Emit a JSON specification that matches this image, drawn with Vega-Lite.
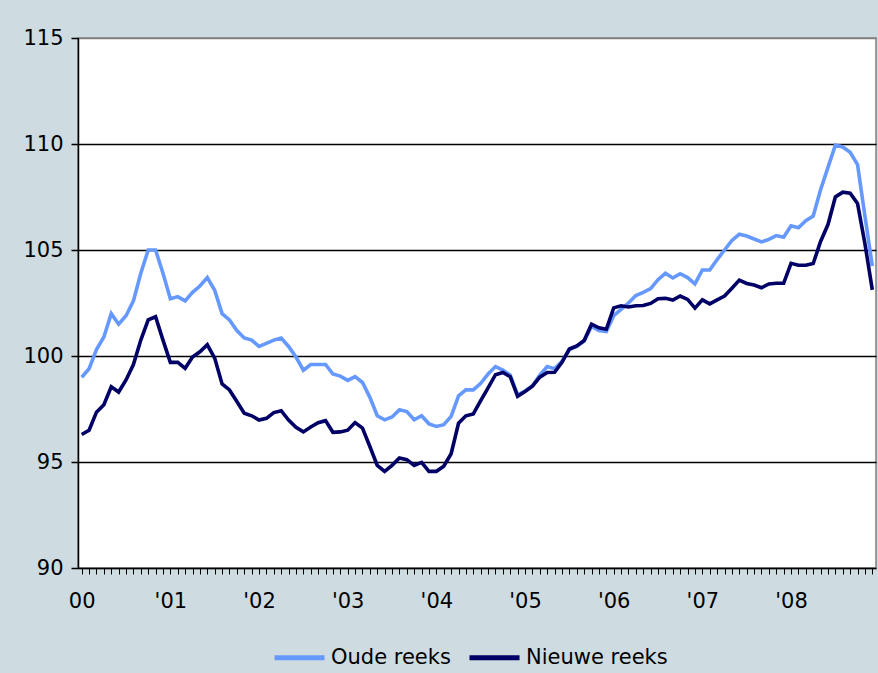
{
  "$schema": "https://vega.github.io/schema/vega-lite/v6.json",
  "width": 798,
  "height": 530,
  "autosize": "none",
  "padding": {"left": 78, "top": 38, "right": 2, "bottom": 105},
  "background": "#cedbe0",
  "config": {
    "view": {"fill": "white", "stroke": "#808080", "strokeWidth": 1.5},
    "font": "DejaVu Sans"
  },
  "data": {
    "values": [
      {"maand": "2000-01", "oude": 99.0, "nieuwe": 96.3},
      {"maand": "2000-02", "oude": 99.4, "nieuwe": 96.5},
      {"maand": "2000-03", "oude": 100.3, "nieuwe": 97.35},
      {"maand": "2000-04", "oude": 100.9, "nieuwe": 97.7},
      {"maand": "2000-05", "oude": 102.0, "nieuwe": 98.55},
      {"maand": "2000-06", "oude": 101.5, "nieuwe": 98.3},
      {"maand": "2000-07", "oude": 101.9, "nieuwe": 98.87},
      {"maand": "2000-08", "oude": 102.6, "nieuwe": 99.6},
      {"maand": "2000-09", "oude": 103.9, "nieuwe": 100.75},
      {"maand": "2000-10", "oude": 105.0, "nieuwe": 101.7},
      {"maand": "2000-11", "oude": 105.0, "nieuwe": 101.85},
      {"maand": "2000-12", "oude": 103.9, "nieuwe": 100.75},
      {"maand": "2001-01", "oude": 102.7, "nieuwe": 99.7},
      {"maand": "2001-02", "oude": 102.8, "nieuwe": 99.7},
      {"maand": "2001-03", "oude": 102.6, "nieuwe": 99.42},
      {"maand": "2001-04", "oude": 103.0, "nieuwe": 99.95},
      {"maand": "2001-05", "oude": 103.3, "nieuwe": 100.2},
      {"maand": "2001-06", "oude": 103.7, "nieuwe": 100.53},
      {"maand": "2001-07", "oude": 103.1, "nieuwe": 99.9},
      {"maand": "2001-08", "oude": 102.0, "nieuwe": 98.68},
      {"maand": "2001-09", "oude": 101.7, "nieuwe": 98.4},
      {"maand": "2001-10", "oude": 101.2, "nieuwe": 97.85},
      {"maand": "2001-11", "oude": 100.85, "nieuwe": 97.3},
      {"maand": "2001-12", "oude": 100.75, "nieuwe": 97.18},
      {"maand": "2002-01", "oude": 100.45, "nieuwe": 96.98},
      {"maand": "2002-02", "oude": 100.6, "nieuwe": 97.06},
      {"maand": "2002-03", "oude": 100.75, "nieuwe": 97.33},
      {"maand": "2002-04", "oude": 100.85, "nieuwe": 97.42},
      {"maand": "2002-05", "oude": 100.45, "nieuwe": 96.98},
      {"maand": "2002-06", "oude": 99.95, "nieuwe": 96.64},
      {"maand": "2002-07", "oude": 99.33, "nieuwe": 96.42},
      {"maand": "2002-08", "oude": 99.6, "nieuwe": 96.65},
      {"maand": "2002-09", "oude": 99.6, "nieuwe": 96.85},
      {"maand": "2002-10", "oude": 99.6, "nieuwe": 96.95},
      {"maand": "2002-11", "oude": 99.15, "nieuwe": 96.4},
      {"maand": "2002-12", "oude": 99.05, "nieuwe": 96.42},
      {"maand": "2003-01", "oude": 98.85, "nieuwe": 96.5},
      {"maand": "2003-02", "oude": 99.03, "nieuwe": 96.86},
      {"maand": "2003-03", "oude": 98.75, "nieuwe": 96.6},
      {"maand": "2003-04", "oude": 98.05, "nieuwe": 95.73},
      {"maand": "2003-05", "oude": 97.18, "nieuwe": 94.84},
      {"maand": "2003-06", "oude": 96.99, "nieuwe": 94.56},
      {"maand": "2003-07", "oude": 97.12, "nieuwe": 94.84},
      {"maand": "2003-08", "oude": 97.46, "nieuwe": 95.19},
      {"maand": "2003-09", "oude": 97.38, "nieuwe": 95.11},
      {"maand": "2003-10", "oude": 96.99, "nieuwe": 94.84},
      {"maand": "2003-11", "oude": 97.18, "nieuwe": 94.98},
      {"maand": "2003-12", "oude": 96.8, "nieuwe": 94.56},
      {"maand": "2004-01", "oude": 96.68, "nieuwe": 94.56},
      {"maand": "2004-02", "oude": 96.76, "nieuwe": 94.8},
      {"maand": "2004-03", "oude": 97.15, "nieuwe": 95.39},
      {"maand": "2004-04", "oude": 98.12, "nieuwe": 96.83},
      {"maand": "2004-05", "oude": 98.4, "nieuwe": 97.18},
      {"maand": "2004-06", "oude": 98.4, "nieuwe": 97.27},
      {"maand": "2004-07", "oude": 98.71, "nieuwe": 97.9},
      {"maand": "2004-08", "oude": 99.15, "nieuwe": 98.5},
      {"maand": "2004-09", "oude": 99.5, "nieuwe": 99.12},
      {"maand": "2004-10", "oude": 99.34, "nieuwe": 99.22},
      {"maand": "2004-11", "oude": 99.1, "nieuwe": 99.02},
      {"maand": "2004-12", "oude": 98.17, "nieuwe": 98.1},
      {"maand": "2005-01", "oude": 98.35, "nieuwe": 98.32},
      {"maand": "2005-02", "oude": 98.6, "nieuwe": 98.58},
      {"maand": "2005-03", "oude": 99.1, "nieuwe": 99.0},
      {"maand": "2005-04", "oude": 99.5, "nieuwe": 99.22},
      {"maand": "2005-05", "oude": 99.4, "nieuwe": 99.23},
      {"maand": "2005-06", "oude": 99.75, "nieuwe": 99.7},
      {"maand": "2005-07", "oude": 100.3, "nieuwe": 100.33},
      {"maand": "2005-08", "oude": 100.45, "nieuwe": 100.47},
      {"maand": "2005-09", "oude": 100.7, "nieuwe": 100.73},
      {"maand": "2005-10", "oude": 101.4, "nieuwe": 101.5},
      {"maand": "2005-11", "oude": 101.2, "nieuwe": 101.33},
      {"maand": "2005-12", "oude": 101.15, "nieuwe": 101.26},
      {"maand": "2006-01", "oude": 101.9, "nieuwe": 102.27},
      {"maand": "2006-02", "oude": 102.2, "nieuwe": 102.37},
      {"maand": "2006-03", "oude": 102.5, "nieuwe": 102.31},
      {"maand": "2006-04", "oude": 102.85, "nieuwe": 102.37},
      {"maand": "2006-05", "oude": 103.0, "nieuwe": 102.38},
      {"maand": "2006-06", "oude": 103.18, "nieuwe": 102.48},
      {"maand": "2006-07", "oude": 103.6, "nieuwe": 102.7},
      {"maand": "2006-08", "oude": 103.9, "nieuwe": 102.72},
      {"maand": "2006-09", "oude": 103.68, "nieuwe": 102.64},
      {"maand": "2006-10", "oude": 103.88, "nieuwe": 102.83},
      {"maand": "2006-11", "oude": 103.7, "nieuwe": 102.67},
      {"maand": "2006-12", "oude": 103.4, "nieuwe": 102.26},
      {"maand": "2007-01", "oude": 104.06, "nieuwe": 102.65},
      {"maand": "2007-02", "oude": 104.06, "nieuwe": 102.46},
      {"maand": "2007-03", "oude": 104.55, "nieuwe": 102.65},
      {"maand": "2007-04", "oude": 105.0, "nieuwe": 102.83},
      {"maand": "2007-05", "oude": 105.45, "nieuwe": 103.2},
      {"maand": "2007-06", "oude": 105.74, "nieuwe": 103.58},
      {"maand": "2007-07", "oude": 105.66, "nieuwe": 103.42},
      {"maand": "2007-08", "oude": 105.52, "nieuwe": 103.35},
      {"maand": "2007-09", "oude": 105.38, "nieuwe": 103.22},
      {"maand": "2007-10", "oude": 105.5, "nieuwe": 103.4},
      {"maand": "2007-11", "oude": 105.68, "nieuwe": 103.43},
      {"maand": "2007-12", "oude": 105.6, "nieuwe": 103.43},
      {"maand": "2008-01", "oude": 106.14, "nieuwe": 104.37},
      {"maand": "2008-02", "oude": 106.05, "nieuwe": 104.28},
      {"maand": "2008-03", "oude": 106.38, "nieuwe": 104.28},
      {"maand": "2008-04", "oude": 106.6, "nieuwe": 104.36},
      {"maand": "2008-05", "oude": 107.84, "nieuwe": 105.4},
      {"maand": "2008-06", "oude": 108.9, "nieuwe": 106.2},
      {"maand": "2008-07", "oude": 109.95, "nieuwe": 107.5},
      {"maand": "2008-08", "oude": 109.86, "nieuwe": 107.73},
      {"maand": "2008-09", "oude": 109.61, "nieuwe": 107.68},
      {"maand": "2008-10", "oude": 109.03, "nieuwe": 107.2},
      {"maand": "2008-11", "oude": 106.6, "nieuwe": 105.3},
      {"maand": "2008-12", "oude": 104.25, "nieuwe": 103.12}
    ]
  },
  "layer": [
    {
      "mark": {"type": "line", "strokeWidth": 3.6},
      "encoding": {
        "x": {
          "field": "maand",
          "type": "ordinal",
          "scale": {"type": "point", "padding": 0.5},
          "axis": {
            "orient": "bottom",
            "title": null,
            "domainColor": "black",
            "domainWidth": 1.5,
            "ticks": true,
            "tickSize": 6,
            "tickColor": "black",
            "tickWidth": 1,
            "grid": false,
            "labelExpr": "slice(datum.value,5,7) == '01' ? (datum.value == '2000-01' ? '00' : \"'\" + slice(datum.value,2,4)) : ''",
            "labelAngle": 0,
            "labelFontSize": 21,
            "labelFont": "DejaVu Sans",
            "labelColor": "black",
            "labelPadding": 16,
            "labelOverlap": false
          }
        },
        "y": {
          "field": "oude",
          "type": "quantitative",
          "scale": {"domain": [90, 115], "nice": false, "zero": false},
          "axis": {
            "title": null,
            "values": [90, 95, 100, 105, 110, 115],
            "domainColor": "black",
            "domainWidth": 1.5,
            "tickSize": 7,
            "tickColor": "black",
            "tickWidth": 1.5,
            "grid": true,
            "gridColor": {"condition": {"test": "datum.value == 115 || datum.value == 90", "value": "#808080"}, "value": "black"},
            "gridWidth": 1.5,
            "labelFontSize": 21,
            "labelFont": "DejaVu Sans",
            "labelColor": "black",
            "labelPadding": 8
          }
        },
        "color": {
          "datum": "Oude reeks",
          "type": "nominal",
          "scale": {"domain": ["Oude reeks", "Nieuwe reeks"], "range": ["#6699ff", "#000066"]},
          "legend": {
            "title": null,
            "orient": "none",
            "legendX": 194,
            "legendY": 592,
            "direction": "horizontal",
            "symbolType": "stroke",
            "symbolSize": 2500,
            "symbolStrokeWidth": 5,
            "labelFontSize": 21,
            "labelFont": "DejaVu Sans",
            "labelColor": "black",
            "labelOffset": 4,
            "columnPadding": 8
          }
        }
      }
    },
    {
      "mark": {"type": "line", "strokeWidth": 3.6},
      "encoding": {
        "x": {"field": "maand", "type": "ordinal"},
        "y": {"field": "nieuwe", "type": "quantitative"},
        "color": {"datum": "Nieuwe reeks", "type": "nominal"}
      }
    }
  ]
}
